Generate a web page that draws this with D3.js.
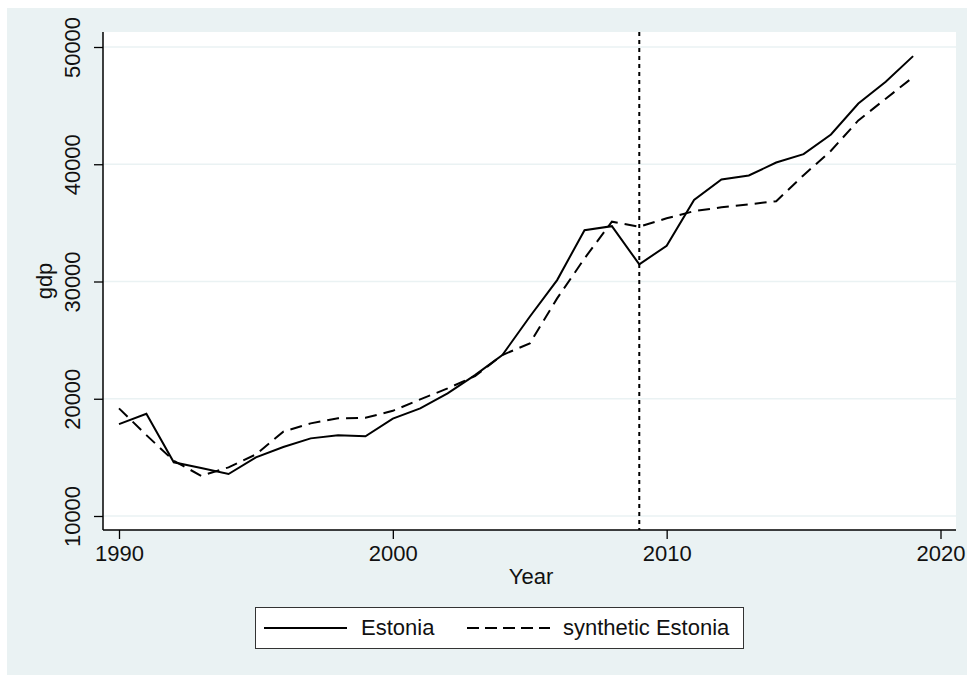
<!DOCTYPE html>
<html>
<head>
<meta charset="utf-8">
<script src="https://cdn.jsdelivr.net/npm/d3@7"></script>
<style>
  body { margin: 0; background: #fff; }
  text { font-family: "Liberation Sans", Arial, sans-serif; fill: #111; }
</style>
</head>
<body>
<div id="chart"></div>
<script>
// gdp per year
const years = [1990, 1991, 1992, 1993, 1994, 1995, 1996, 1997, 1998, 1999,
               2000, 2001, 2002, 2003, 2004, 2005, 2006, 2007, 2008, 2009,
               2010, 2011, 2012, 2013, 2014, 2015, 2016, 2017, 2018, 2019];
const estonia = [17840, 18720, 14580, 14090, 13580, 15000, 15880, 16620, 16880, 16800,
                 18300, 19180, 20460, 22020, 23730, 26990, 30120, 34380, 34720, 31460,
                 33050, 36960, 38700, 39040, 40150, 40860, 42540, 45180, 47030, 49220];
const synthetic = [19180, 16900, 14710, 13430, 14150, 15250, 17190, 17900, 18330, 18380,
                   18970, 19950, 20880, 21930, 23730, 24720, 28560, 31970, 35100, 34670,
                   35390, 36000, 36330, 36580, 36850, 39070, 41150, 43740, 45590, 47430];
const xTicks = [1990, 2000, 2010, 2020];
const yTicks = [10000, 20000, 30000, 40000, 50000];
const treatYear = 2009;
const seriesNames = ["Estonia", "synthetic Estonia"];

const width = 967, height = 675;
const bg = "#eaf2f3";
// plot region (white box)
const region = {left: 103, right: 956, top: 32, bottom: 530};

const svg = d3.select("#chart").append("svg")
    .attr("width", width)
    .attr("height", height);

// outer graph background
svg.append("rect")
    .attr("x", 7).attr("y", 8)
    .attr("width", width - 7).attr("height", height - 8)
    .attr("fill", bg);

svg.append("rect")
    .attr("x", region.left).attr("y", region.top)
    .attr("width", region.right - region.left)
    .attr("height", region.bottom - region.top)
    .attr("fill", "#fff");

const x = d3.scaleLinear().domain([1990, 2020]).range([119, 940.5]);
const y = d3.scaleLinear().domain([10000, 50000]).range([516, 47]);

// horizontal grid
svg.append("g").selectAll("line")
    .data(yTicks)
    .enter().append("line")
    .attr("x1", region.left).attr("x2", region.right)
    .attr("y1", d => y(d)).attr("y2", d => y(d))
    .attr("stroke", bg)
    .attr("stroke-width", 1.6);

// y axis
let yAxis = svg.append("g")
    .attr("transform", "translate(" + region.left + ",0)")
    .call(d3.axisLeft(y).tickValues(yTicks).tickSize(9).tickFormat(d3.format("d")));
yAxis.select(".domain")
    .attr("d", "M0," + region.top + "V" + region.bottom)
    .attr("stroke", "#000").attr("stroke-width", 1.5);
yAxis.selectAll(".tick line").attr("stroke", "#000").attr("stroke-width", 1.3);
yAxis.selectAll(".tick text")
    .attr("transform", "rotate(-90)")
    .attr("x", 0).attr("y", -23).attr("dy", 0)
    .attr("text-anchor", "middle")
    .attr("font-size", 22)
    .attr("fill", "#111");

// x axis
let xAxis = svg.append("g")
    .attr("transform", "translate(0," + region.bottom + ")")
    .call(d3.axisBottom(x).tickValues(xTicks).tickSize(9).tickFormat(d3.format("d")));
xAxis.select(".domain")
    .attr("d", "M" + region.left + ",0H" + region.right)
    .attr("stroke", "#000").attr("stroke-width", 1.5);
xAxis.selectAll(".tick line").attr("stroke", "#000").attr("stroke-width", 1.3);
xAxis.selectAll(".tick text")
    .attr("y", 31).attr("dy", 0)
    .attr("font-size", 22)
    .attr("fill", "#111");

// axis titles
svg.append("text")
    .attr("x", 531).attr("y", 584)
    .attr("text-anchor", "middle")
    .attr("font-size", 22)
    .text("Year");

svg.append("text")
    .attr("transform", "translate(52,281) rotate(-90)")
    .attr("text-anchor", "middle")
    .attr("font-size", 22)
    .text("gdp");

// treatment line
svg.append("line")
    .attr("x1", x(treatYear)).attr("x2", x(treatYear))
    .attr("y1", region.top).attr("y2", region.bottom)
    .attr("stroke", "#000")
    .attr("stroke-width", 2)
    .attr("stroke-dasharray", "4,4");

const line = d3.line()
    .x((d, i) => x(years[i]))
    .y(d => y(d));

svg.append("path")
    .datum(estonia)
    .attr("d", line)
    .attr("fill", "none")
    .attr("stroke", "#000")
    .attr("stroke-width", 2);

svg.append("path")
    .datum(synthetic)
    .attr("d", line)
    .attr("fill", "none")
    .attr("stroke", "#000")
    .attr("stroke-width", 2)
    .attr("stroke-dasharray", "12,7");

// legend
let legend = svg.append("g");
legend.append("rect")
    .attr("x", 255.5).attr("y", 607.5)
    .attr("width", 488).attr("height", 41)
    .attr("fill", "#fff")
    .attr("stroke", "#333")
    .attr("stroke-width", 1);

const legendItems = [
    {name: seriesNames[0], x0: 264, dash: null, tx: 361},
    {name: seriesNames[1], x0: 467, dash: "12,6", tx: 563}
];
legendItems.forEach(item => {
    legend.append("line")
        .attr("x1", item.x0).attr("x2", item.x0 + 83)
        .attr("y1", 628).attr("y2", 628)
        .attr("stroke", "#000")
        .attr("stroke-width", 2)
        .attr("stroke-dasharray", item.dash);
    legend.append("text")
        .attr("x", item.tx).attr("y", 635)
        .attr("font-size", 22)
        .text(item.name);
});
</script>
</body>
</html>
